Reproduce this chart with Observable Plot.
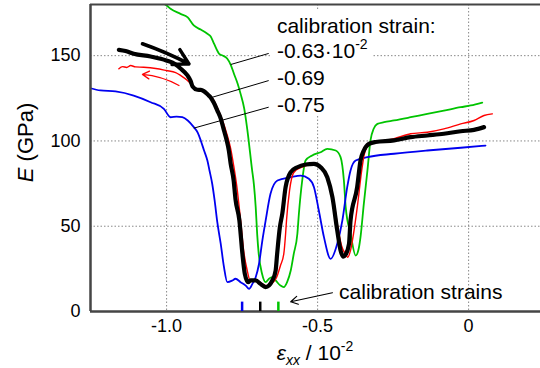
<!DOCTYPE html>
<html><head><meta charset="utf-8">
<script src="https://cdn.jsdelivr.net/npm/d3@7"></script>
<script src="https://cdn.jsdelivr.net/npm/@observablehq/plot@0.6"></script>
<style>html,body{margin:0;padding:0;background:#fff} svg{display:block}</style>
</head><body><div id="chart"></div>
<script>
const FONT = "'Liberation Sans', Arial, Helvetica, sans-serif";
const BLUE = "#0000f0", RED = "#ff0000", GREEN = "#00c400", BLACK = "#000000";

// axis ticks
const xTicks = [-1.0, -0.5, 0];
const yTicks = [0, 50, 100, 150];

// [strain eps_xx (10^-2), E (GPa)]
const blackCurve = [[-1.158,153.4],[-1.136,152.7],[-1.109,151.1],[-1.053,149.5],[-1.001,147.2],[-0.970,144.8],[-0.954,142.5],[-0.931,138.4],[-0.921,135.4],[-0.914,131.9],[-0.898,130.0],[-0.887,129.9],[-0.877,129.2],[-0.864,127.2],[-0.854,125.5],[-0.844,122.5],[-0.832,117.8],[-0.821,113.2],[-0.810,106.1],[-0.801,100.3],[-0.794,94.4],[-0.788,86.8],[-0.778,76.8],[-0.772,66.0],[-0.759,53.4],[-0.749,33.8],[-0.741,22.1],[-0.730,17.2],[-0.722,18.2],[-0.705,18.2],[-0.689,16.2],[-0.672,14.3],[-0.661,15.2],[-0.650,18.2],[-0.639,24.0],[-0.634,33.8],[-0.625,49.4],[-0.617,57.3],[-0.606,72.9],[-0.589,81.7],[-0.567,84.6],[-0.540,86.2],[-0.512,86.6],[-0.490,84.6],[-0.468,78.7],[-0.451,67.0],[-0.435,47.5],[-0.424,35.8],[-0.415,32.2],[-0.407,33.4],[-0.396,39.7],[-0.391,53.4],[-0.369,72.9],[-0.358,88.5],[-0.347,94.4],[-0.330,98.3],[-0.308,99.4],[-0.247,100.3],[-0.192,102.2],[-0.137,103.2],[-0.082,104.2],[-0.026,105.7],[0.018,106.5],[0.051,108.1]];
const redCurve = [[-1.158,142.3],[-1.146,143.6],[-1.132,143.1],[-1.119,144.2],[-1.103,143.4],[-1.076,143.2],[-1.036,142.5],[-1.001,141.3],[-0.970,140.1],[-0.954,138.4],[-0.931,135.4],[-0.921,133.7],[-0.911,131.3],[-0.897,129.6],[-0.877,129.0],[-0.861,127.2],[-0.848,124.9],[-0.828,117.8],[-0.815,112.0],[-0.801,104.4],[-0.788,95.6],[-0.778,85.6],[-0.768,73.9],[-0.755,53.4],[-0.745,35.8],[-0.733,24.0],[-0.725,18.8],[-0.712,18.2],[-0.695,17.6],[-0.679,15.8],[-0.666,14.7],[-0.652,16.4],[-0.636,19.9],[-0.623,27.0],[-0.612,33.8],[-0.606,45.6],[-0.603,53.4],[-0.593,70.9],[-0.579,81.5],[-0.556,84.4],[-0.513,86.2],[-0.487,84.4],[-0.464,76.8],[-0.447,65.1],[-0.434,50.4],[-0.421,38.7],[-0.407,33.4],[-0.401,31.8],[-0.391,35.8],[-0.381,45.7],[-0.368,62.1],[-0.354,82.7],[-0.344,93.2],[-0.328,97.9],[-0.302,99.3],[-0.247,101.3],[-0.192,104.2],[-0.137,105.1],[-0.082,107.1],[-0.026,110.0],[0.018,112.0],[0.051,114.9],[0.078,115.9]];
const greenCurve = [[-1.016,181.0],[-1.001,179.6],[-0.987,177.5],[-0.954,174.5],[-0.930,172.4],[-0.910,167.7],[-0.887,165.3],[-0.865,162.8],[-0.854,161.2],[-0.843,157.0],[-0.826,151.1],[-0.815,150.1],[-0.799,148.2],[-0.788,144.8],[-0.777,139.4],[-0.765,133.7],[-0.755,127.6],[-0.743,119.0],[-0.733,107.0],[-0.717,83.0],[-0.711,74.5],[-0.705,61.2],[-0.700,45.1],[-0.695,33.8],[-0.684,22.1],[-0.672,17.2],[-0.661,19.2],[-0.650,20.1],[-0.639,18.2],[-0.623,15.2],[-0.612,14.3],[-0.601,17.2],[-0.589,24.0],[-0.579,33.8],[-0.567,45.6],[-0.562,57.3],[-0.551,76.8],[-0.540,88.5],[-0.518,91.5],[-0.490,93.4],[-0.468,95.4],[-0.440,94.4],[-0.424,90.5],[-0.413,76.8],[-0.407,61.2],[-0.391,45.6],[-0.374,32.8],[-0.363,37.7],[-0.358,43.6],[-0.347,63.1],[-0.335,82.7],[-0.325,100.3],[-0.314,107.3],[-0.302,110.0],[-0.280,111.0],[-0.247,112.0],[-0.192,113.9],[-0.137,115.9],[-0.082,117.8],[-0.026,119.8],[0.007,120.8],[0.045,122.5]];
const blueCurve = [[-1.252,130.9],[-1.219,129.6],[-1.169,129.0],[-1.109,126.6],[-1.053,122.7],[-1.009,118.8],[-0.987,113.9],[-0.967,114.3],[-0.948,113.9],[-0.930,112.0],[-0.910,108.1],[-0.897,104.9],[-0.887,100.3],[-0.876,94.4],[-0.865,88.5],[-0.858,82.7],[-0.849,74.9],[-0.841,65.1],[-0.832,52.2],[-0.821,39.9],[-0.810,26.0],[-0.799,17.2],[-0.782,18.2],[-0.772,19.2],[-0.755,17.2],[-0.738,15.2],[-0.727,13.3],[-0.716,16.2],[-0.705,20.1],[-0.694,28.0],[-0.683,41.6],[-0.672,53.4],[-0.656,69.0],[-0.633,76.8],[-0.589,78.7],[-0.556,79.7],[-0.529,77.8],[-0.512,72.9],[-0.496,59.2],[-0.479,43.6],[-0.457,30.9],[-0.435,39.7],[-0.418,53.4],[-0.402,72.9],[-0.391,82.7],[-0.374,88.5],[-0.335,90.5],[-0.247,92.5],[-0.137,94.4],[-0.026,96.0],[0.056,97.3]];

// calibration strains (10^-2) marked on the axis
const calibStrains = [-0.75, -0.69, -0.63];
const calibColors = [BLUE, BLACK, GREEN];
const calibTickHeight = 5.5;

// annotation texts
const legendTitle = "calibration strain:";
const legendValues = ["-0.63·10", "-0.69", "-0.75"];
const legendExp = "-2";
const calibNote = "calibration strains";

// annotation anchors in data units
const legendX = -0.633;
const legendBaselines = [162.8, 148.2, 132.5, 116.8];
const legendBox = {x1: -0.656, x2: -0.318, y1: 115, y2: 176.5};
const leaders = [
  {x1: -0.788, y1: 144.8, x2: -0.662, y2: 151.3},
  {x1: -0.849, y1: 125.6, x2: -0.662, y2: 135.4},
  {x1: -0.910, y1: 107.5, x2: -0.662, y2: 119.8}
];
const arrowLoad = {x1: -1.080, y1: 157.0, x2: -0.926, y2: 145.2};
const arrowUnload = {x1: -0.959, y1: 132.5, x2: -1.080, y2: 139.0};
const arrowCalib = {x1: -0.451, y1: 11.0, x2: -0.589, y2: 5.7};
const calibNotePos = {x: -0.429, y: 11.0};

const toPts = c => c.map(([x, y]) => ({x, y}));
const lineOpts = (stroke, w) => ({x: "x", y: "y", stroke, strokeWidth: w, curve: "monotone-x", clip: true, strokeLinejoin: "round"});
const fmtX = d => d === 0 ? "0" : d.toFixed(1);
const AX = "#454545";

const plot = Plot.plot({
  width: 540, height: 368,
  marginLeft: 90, marginRight: 0, marginTop: 4, marginBottom: 57,
  style: {fontFamily: FONT, fontSize: "18px", color: "#000", background: "#fff", overflow: "visible"},
  x: {domain: [-1.252, 0.238], label: null},
  y: {domain: [0, 180], label: null},
  marks: [
    Plot.gridX(xTicks, {stroke: "#888", strokeOpacity: 1, strokeWidth: 1, strokeDasharray: "1.5,2"}),
    Plot.gridY(yTicks.filter(d => d > 0), {stroke: "#888", strokeOpacity: 1, strokeWidth: 1, strokeDasharray: "1.5,2"}),
    Plot.rect([legendBox], {x1: "x1", x2: "x2", y1: "y1", y2: "y2", fill: "#fff"}),
    Plot.line(toPts(greenCurve), lineOpts(GREEN, 1.8)),
    Plot.line(toPts(blueCurve), lineOpts(BLUE, 1.8)),
    Plot.line(toPts(redCurve), lineOpts(RED, 1.4)),
    Plot.line(toPts(blackCurve), lineOpts(BLACK, 4.2)),
    Plot.link(leaders, {x1: "x1", y1: "y1", x2: "x2", y2: "y2", stroke: "#000", strokeWidth: 1}),
    Plot.arrow([arrowLoad], {x1: "x1", y1: "y1", x2: "x2", y2: "y2", stroke: "#000", strokeWidth: 3.5, headLength: 13, bend: 4}),
    Plot.arrow([arrowUnload], {x1: "x1", y1: "y1", x2: "x2", y2: "y2", stroke: RED, strokeWidth: 1.3, headLength: 9, bend: -12}),
    Plot.arrow([arrowCalib], {x1: "x1", y1: "y1", x2: "x2", y2: "y2", stroke: "#000", strokeWidth: 1.2, headLength: 10, bend: 0}),
    Plot.text([calibNotePos], {x: "x", y: "y", text: () => calibNote, textAnchor: "start", fontSize: 21, fill: "#000"}),
    Plot.axisX(xTicks, {tickSize: 0, tickPadding: 8, tickFormat: fmtX, fontSize: 18, label: null}),
    Plot.axisY(yTicks, {tickSize: 0, tickPadding: 10, fontSize: 18, label: null}),
    Plot.ruleY([180], {stroke: AX, strokeWidth: 2}),
    Plot.ruleX([-1.252], {stroke: AX, strokeWidth: 2.5}),
    Plot.ruleY([0], {stroke: AX, strokeWidth: 2.5}),
    Plot.ruleX(calibStrains, {y1: 0, y2: calibTickHeight, stroke: (d, i) => calibColors[i], strokeWidth: 2.5})
  ]
});

document.getElementById("chart").appendChild(plot);

const xs = plot.scale("x").apply, ys = plot.scale("y").apply;
const svg = d3.select(plot);

// legend block with superscript exponent
const lx = xs(legendX);
const g = svg.append("g").attr("font-family", FONT).attr("font-size", 21).attr("fill", "#000").attr("text-anchor", "start");
g.append("text").attr("x", lx).attr("y", ys(legendBaselines[0])).text(legendTitle);
legendValues.forEach((v, i) => {
  const t = g.append("text").attr("x", lx).attr("y", ys(legendBaselines[i + 1]));
  t.append("tspan").text(v);
  if (i === 0) t.append("tspan").attr("font-size", 14).attr("dy", -9).text(legendExp);
});

// y axis label
const yMid = (ys(0) + ys(180)) / 2;
const yl = svg.append("text").attr("font-family", FONT).attr("font-size", 22).attr("fill", "#000")
  .attr("text-anchor", "middle").attr("transform", `translate(33,${yMid - 15}) rotate(-90)`);
yl.append("tspan").attr("font-style", "italic").text("E");
yl.append("tspan").text(" (GPa)");

// x axis label
const xMid = (xs(-1.252) + xs(0.238)) / 2;
const xl = svg.append("text").attr("font-family", FONT).attr("font-size", 21).attr("fill", "#000")
  .attr("text-anchor", "middle").attr("x", xMid).attr("y", 360);
xl.append("tspan").attr("font-style", "italic").text("ε");
xl.append("tspan").attr("font-style", "italic").attr("font-size", 14).attr("dy", 5).text("xx");
xl.append("tspan").attr("dy", -5).text(" / 10");
xl.append("tspan").attr("font-size", 14).attr("dy", -9).text("-2");
</script>
</body></html>
